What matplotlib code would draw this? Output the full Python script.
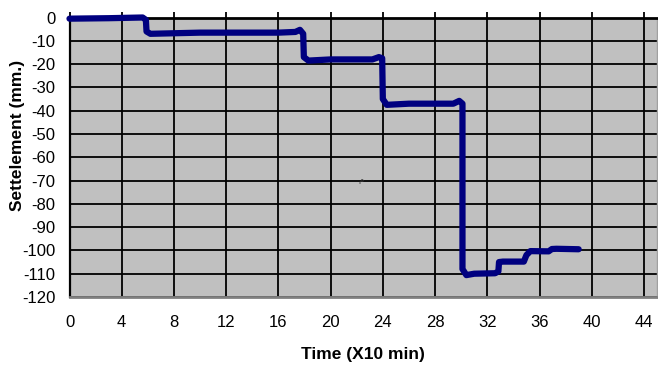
import matplotlib
matplotlib.use("Agg")
import matplotlib.pyplot as plt
import numpy as np

plt.rcParams['font.family'] = ['Liberation Sans', 'DejaVu Sans']
plt.rcParams['axes.unicode_minus'] = False

# Data (time in units of 10 min, settlement in mm)
time = [0, 3, 5.6, 5.85, 5.9, 6.2, 10, 16, 17.3, 17.65, 17.9, 17.95, 18.3, 20, 23.2,
        23.7, 23.95, 24.0, 24.3, 26, 29.4, 29.85, 30.1, 30.1, 30.4, 31, 32.6,
        32.85, 32.9, 33.2, 34.8, 35.0, 35.3, 36.7, 36.95, 37.3, 39]
settle = [-0.5, -0.3, 0, -1, -6, -7, -6.5, -6.5, -6.2, -5.3, -7, -17, -18.5, -18, -18,
          -17, -17.5, -35, -37.5, -37, -37, -35.8, -37, -108, -110.6, -110, -109.8,
          -109, -105, -104.8, -104.8, -102, -100.3, -100.4, -99.4, -99.3, -99.5]

xticks = list(range(0, 45, 4))
yticks = list(range(-120, 1, 10))

W, H = 658, 367
fig = plt.figure(figsize=(W / 100, H / 100), dpi=100)
ax = fig.add_axes([69.5 / W, 1 - 297 / H, (657 - 69.5) / W, (297 - 17.5) / H])
ax.set_facecolor('#C0C0C0')

ax.set_xlim(0, 45)
ax.set_ylim(-120, 0)
ax.set_xticks(xticks)
ax.set_yticks(yticks)

ax.grid(True, color='black', linewidth=1.3)
ax.set_axisbelow(True)

ax.plot(time, settle, color='#000080', linewidth=4.5, solid_joinstyle='round',
        solid_capstyle='round', zorder=3, clip_on=False)

# spines
ax.spines['top'].set_color('black')
ax.spines['top'].set_linewidth(2)
ax.spines['left'].set_color('black')
ax.spines['left'].set_linewidth(1.6)
ax.spines['bottom'].set_color('#808080')
ax.spines['bottom'].set_linewidth(2)
ax.spines['right'].set_color('#A0A0A0')
ax.spines['right'].set_linewidth(1)

ax.tick_params(axis='x', which='both', top=True, bottom=False, direction='out',
               length=4, width=1.3, color='black', labelsize=12, pad=9)
ax.tick_params(axis='y', which='both', left=True, direction='in', length=0,
               labelsize=12, pad=10)

fig.text(18 / W, 1 - 135 / H, 'Settelement (mm.)', rotation=90, fontsize=12.5,
         fontweight='bold', ha='center', va='center')
fig.text(363 / W, 1 - 355 / H, 'Time (X10 min)', fontsize=12.5, fontweight='bold',
         ha='center', va='center')
fig.text(361 / W, 1 - 179 / H, 'م', fontsize=6, color='#333333', ha='center',
         va='center', family=['DejaVu Sans'])

fig.savefig('out.png', dpi=100)
